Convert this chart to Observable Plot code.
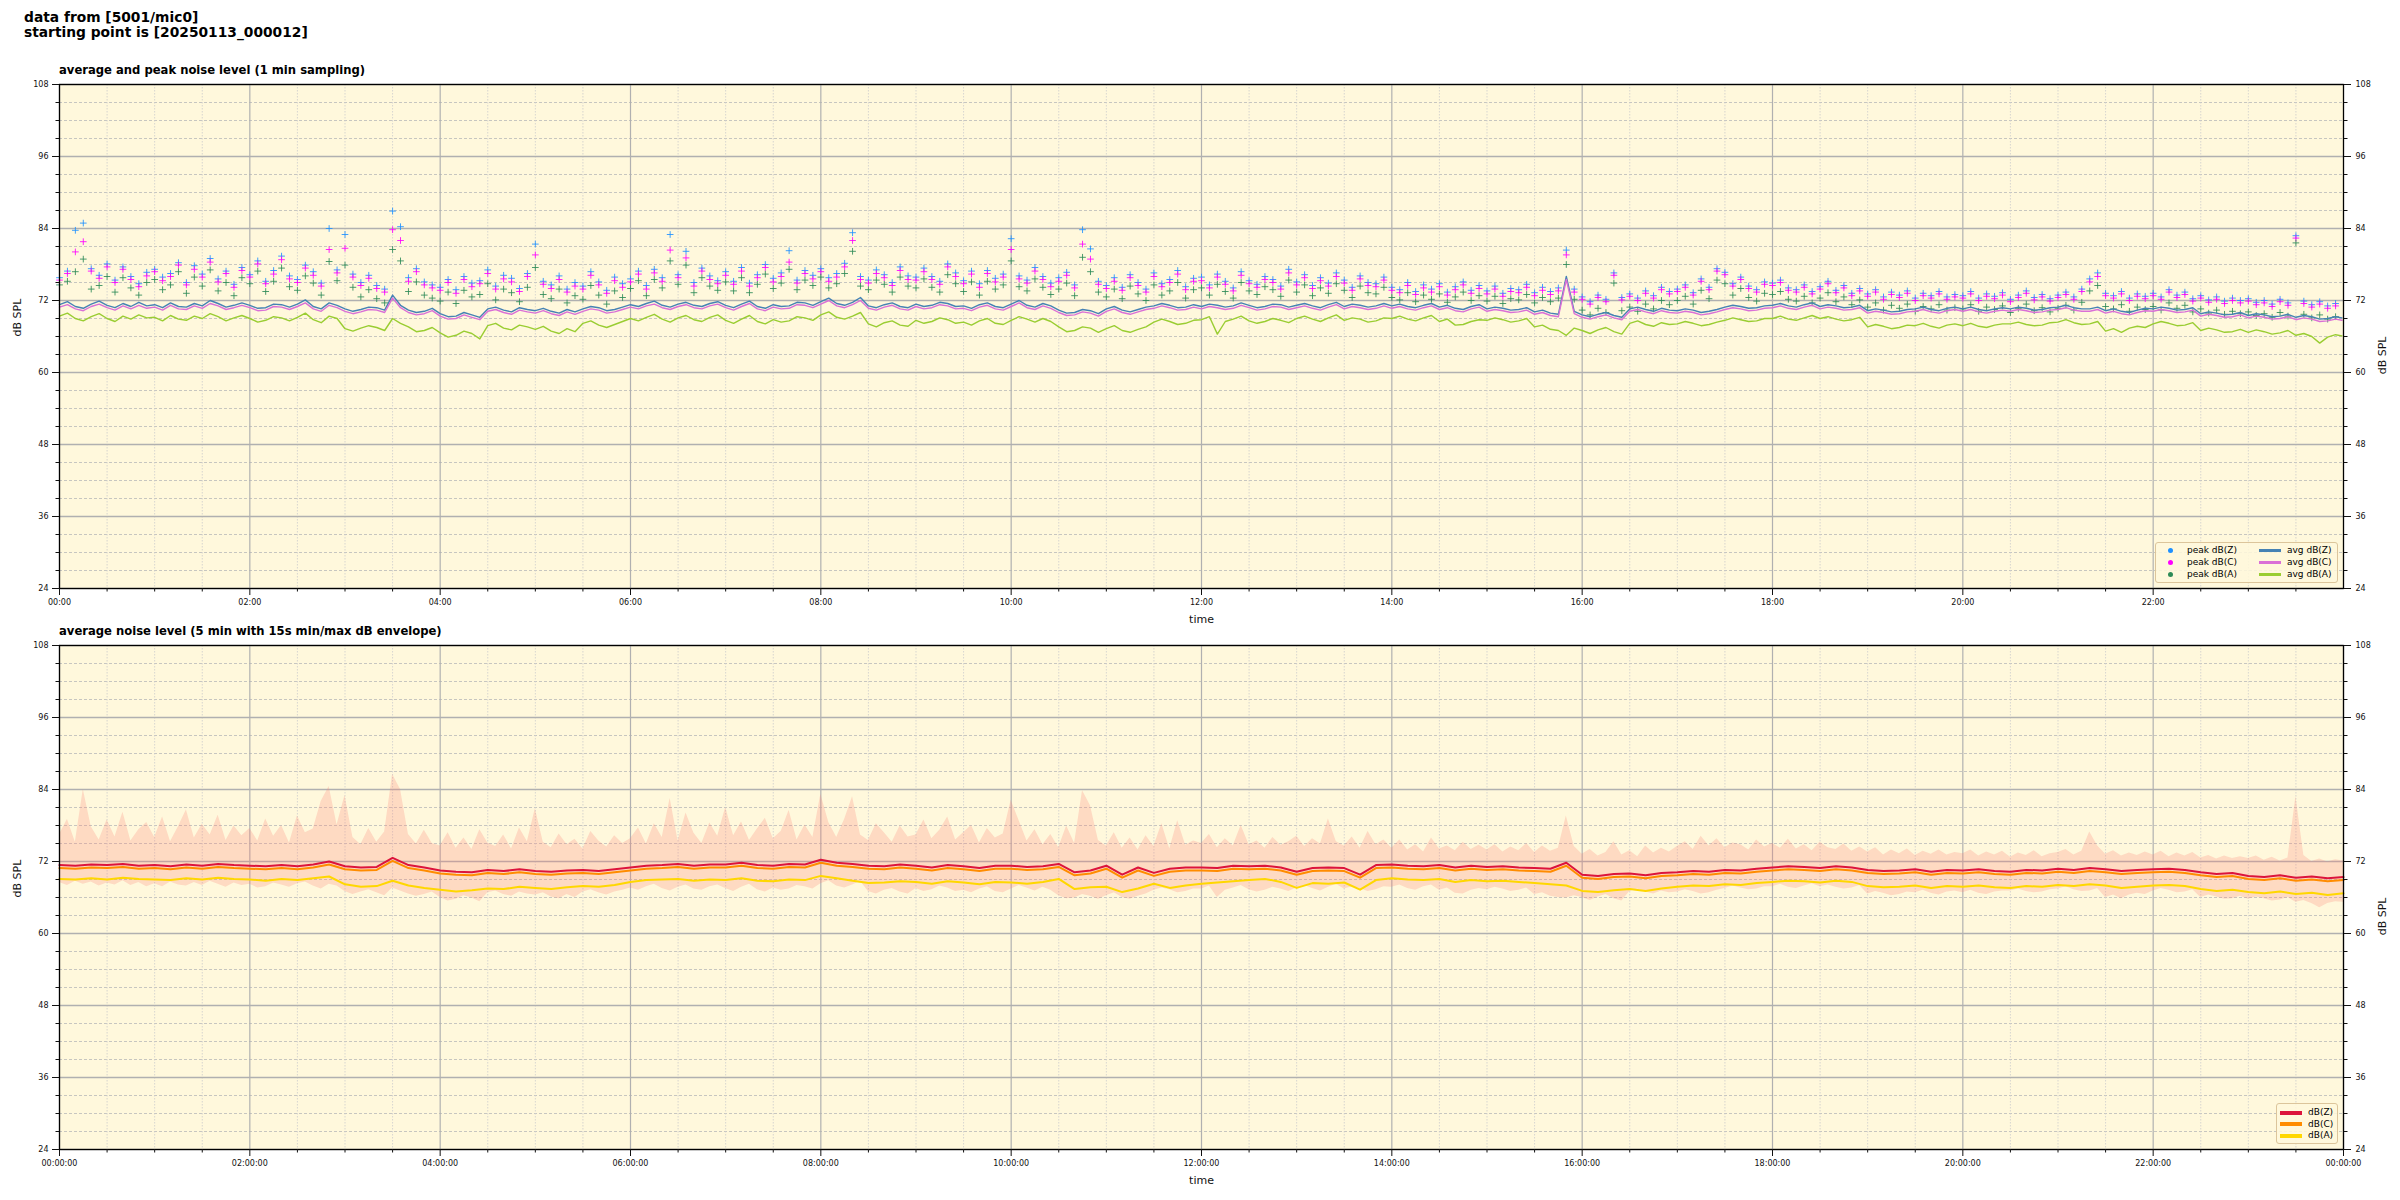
<!DOCTYPE html>
<html><head><meta charset="utf-8">
<script src="https://cdn.jsdelivr.net/npm/d3@7"></script>
<script src="https://cdn.jsdelivr.net/npm/@observablehq/plot@0.6"></script>
<style>
body{margin:0;background:#fff;font-family:"DejaVu Sans",sans-serif;color:#000;}
#page{position:relative;width:2400px;height:1200px;overflow:hidden;background:#fff;}
.abs{position:absolute;}
.maintitle{left:24px;top:10px;font-size:13.8px;font-weight:bold;line-height:15px;white-space:pre;}
.subtitle{left:59px;font-size:11.6px;font-weight:bold;line-height:12px;white-space:pre;}
.legend{position:absolute;border:1px solid #dcc59b;background:rgba(255,248,220,0.85);border-radius:3px;font-size:9px;box-sizing:border-box;}
.legend .it{position:absolute;white-space:pre;line-height:10px;}
.legend .sw{position:absolute;height:3px;}
.legend .dt{position:absolute;width:5px;height:5px;border-radius:50%;}
</style></head>
<body><div id="page">
<div class="abs maintitle">data from [5001/mic0]
starting point is [20250113_000012]</div>
<div class="abs subtitle" style="top:64px">average and peak noise level (1 min sampling)</div>
<div class="abs subtitle" style="top:625px">average noise level (5 min with 15s min/max dB envelope)</div>
<div id="top" class="abs" style="left:0;top:60px"></div>
<div id="bot" class="abs" style="left:0;top:621px"></div>
<div class="legend" style="left:2155px;top:542px;width:183px;height:41px">
  <div class="dt" style="left:12px;top:5px;background:#1e90ff"></div><div class="it" style="left:31px;top:2px">peak dB(Z)</div>
  <div class="dt" style="left:12px;top:17px;background:#ff00ff"></div><div class="it" style="left:31px;top:14px">peak dB(C)</div>
  <div class="dt" style="left:12px;top:29px;background:#2e8b57"></div><div class="it" style="left:31px;top:26px">peak dB(A)</div>
  <div class="sw" style="left:103px;top:6px;width:22px;background:#4682b4"></div><div class="it" style="left:131px;top:2px">avg dB(Z)</div>
  <div class="sw" style="left:103px;top:18px;width:22px;background:#da70d6"></div><div class="it" style="left:131px;top:14px">avg dB(C)</div>
  <div class="sw" style="left:103px;top:30px;width:22px;background:#9acd32"></div><div class="it" style="left:131px;top:26px">avg dB(A)</div>
</div>
<div class="legend" style="left:2276px;top:1103px;width:62px;height:41px">
  <div class="sw" style="left:3px;top:7px;width:22px;height:3.5px;background:#dc143c"></div><div class="it" style="left:31px;top:3px">dB(Z)</div>
  <div class="sw" style="left:3px;top:18px;width:22px;height:3.5px;background:#ff8c00"></div><div class="it" style="left:31px;top:15px">dB(C)</div>
  <div class="sw" style="left:3px;top:30px;width:22px;height:3.5px;background:#ffd700"></div><div class="it" style="left:31px;top:26px">dB(A)</div>
</div>
</div>
<script>
// ---------- data (dB SPL) ----------
// top chart: 5-min readings of the 1-min averages, 00:00 .. 23:59 (12 per hour)
const avgZ = [71.3,71.8,71.0,70.7,71.4,71.9,71.2,70.8,71.5,71.0,71.7,71.1,
71.3,70.8,71.6,71.0,70.9,71.5,71.1,72.0,71.5,70.9,71.2,71.6,
71.2,70.7,70.8,71.4,71.3,70.9,71.4,72.1,71.0,70.6,71.6,71.2,
70.6,70.2,70.5,70.9,70.8,70.4,72.9,71.2,70.4,70.0,70.2,70.7,
69.8,69.3,69.4,70.0,69.6,69.2,70.6,70.9,70.4,70.1,70.8,70.5,
70.3,70.7,70.2,69.9,70.5,70.1,70.6,71.0,70.8,70.3,70.5,70.9,
71.3,71.0,71.5,71.9,71.2,70.9,71.4,71.7,71.2,71.0,71.5,71.8,
71.2,70.8,71.4,71.9,71.0,70.7,71.3,71.0,71.1,71.7,71.6,71.2,
71.8,72.4,71.5,71.2,71.7,72.5,71.1,70.8,71.3,71.6,71.0,70.8,
71.4,71.0,71.2,71.7,71.5,71.0,71.1,70.7,71.3,71.6,71.0,70.8,
71.4,72.0,71.2,70.9,71.5,71.1,70.4,69.9,70.0,70.5,70.3,69.8,
70.6,71.0,70.4,70.1,70.5,70.9,71.1,71.5,71.2,70.8,70.9,71.3,
71.0,71.4,71.2,70.9,71.1,71.6,71.2,70.8,71.0,71.4,71.3,70.9,
71.2,71.5,71.1,70.8,71.3,71.7,71.0,71.4,71.2,70.9,71.1,71.5,
71.1,71.4,71.0,70.8,71.2,71.5,70.9,71.2,70.7,70.5,71.0,71.3,
70.6,70.9,70.7,70.4,70.5,70.8,70.1,70.4,69.9,69.7,76.0,70.2,
69.6,69.3,69.7,70.0,69.5,69.2,70.6,70.9,70.5,70.2,70.7,70.4,
70.3,70.6,70.4,70.0,70.2,70.5,70.9,71.2,71.0,70.7,70.8,71.1,
71.2,71.5,71.1,70.9,71.3,71.6,71.0,71.3,71.1,70.8,70.9,71.2,
70.3,70.6,70.4,70.1,70.2,70.5,70.6,70.9,70.5,70.3,70.7,70.9,
70.6,70.9,70.5,70.3,70.6,70.8,70.6,70.9,70.7,70.4,70.5,70.8,
70.9,71.2,70.8,70.6,70.6,70.9,70.3,70.6,70.2,70.0,70.4,70.7,
70.6,70.9,70.7,70.4,70.5,70.8,69.8,70.1,69.9,69.6,69.7,70.0,
69.5,69.8,69.6,69.3,69.4,69.7,69.2,69.5,69.3,68.9,69.0,69.3,69.1];
const avgC = [70.9,71.3,70.6,70.3,71.0,71.4,70.8,70.4,71.1,70.6,71.2,70.7,
70.9,70.4,71.2,70.6,70.5,71.1,70.7,71.5,71.1,70.5,70.8,71.2,
70.8,70.3,70.4,71.0,70.9,70.5,71.0,71.6,70.6,70.2,71.2,70.8,
70.2,69.8,70.1,70.5,70.4,70.0,72.4,70.8,70.0,69.6,69.8,70.3,
69.4,68.9,69.0,69.6,69.2,68.8,70.2,70.5,70.0,69.7,70.4,70.1,
69.9,70.3,69.8,69.5,70.1,69.7,70.2,70.6,70.4,69.9,70.1,70.5,
70.9,70.6,71.1,71.4,70.8,70.5,71.0,71.3,70.8,70.6,71.1,71.4,
70.8,70.4,71.0,71.5,70.6,70.3,70.9,70.6,70.7,71.3,71.2,70.8,
71.4,72.0,71.1,70.8,71.3,72.0,70.7,70.4,70.9,71.2,70.6,70.4,
71.0,70.6,70.8,71.3,71.1,70.6,70.7,70.3,70.9,71.2,70.6,70.4,
71.0,71.6,70.8,70.5,71.1,70.7,70.0,69.5,69.6,70.1,69.9,69.4,
70.2,70.6,70.0,69.7,70.1,70.5,70.7,71.1,70.8,70.4,70.5,70.9,
70.6,71.0,70.8,70.5,70.7,71.2,70.8,70.4,70.6,71.0,70.9,70.5,
70.8,71.1,70.7,70.4,70.9,71.3,70.6,71.0,70.8,70.5,70.7,71.1,
70.7,71.0,70.6,70.4,70.8,71.1,70.5,70.8,70.3,70.1,70.6,70.9,
70.2,70.5,70.3,70.0,70.1,70.4,69.7,70.0,69.5,69.3,75.5,69.8,
69.2,68.9,69.3,69.6,69.1,68.8,70.2,70.5,70.1,69.8,70.3,70.0,
69.9,70.2,70.0,69.6,69.8,70.1,70.5,70.8,70.6,70.3,70.4,70.7,
70.8,71.1,70.7,70.5,70.9,71.2,70.6,70.9,70.7,70.4,70.5,70.8,
69.9,70.2,70.0,69.7,69.8,70.1,70.2,70.5,70.1,69.9,70.3,70.5,
70.2,70.5,70.1,69.9,70.2,70.4,70.2,70.5,70.3,70.0,70.1,70.4,
70.5,70.8,70.4,70.2,70.2,70.5,69.9,70.2,69.8,69.6,70.0,70.3,
70.2,70.5,70.3,70.0,70.1,70.4,69.4,69.7,69.5,69.2,69.3,69.6,
69.1,69.4,69.2,68.9,69.0,69.3,68.8,69.1,68.9,68.5,68.6,68.9,68.7];
const avgA = [69.4,69.9,69.0,68.6,69.3,69.8,69.0,68.5,69.4,68.9,69.6,69.1,
69.2,68.6,69.5,68.9,68.7,69.4,69.0,69.8,69.3,68.6,69.1,69.5,
69.0,68.4,68.7,69.3,69.1,68.6,69.2,69.9,68.8,68.3,69.4,69.0,
67.3,66.9,67.4,67.8,67.5,67.0,69.0,68.2,67.6,66.8,67.0,67.5,
66.6,65.9,66.2,66.9,66.5,65.6,67.8,68.2,67.4,67.1,67.9,67.6,
67.2,67.7,66.9,66.5,67.3,66.8,68.2,68.6,67.9,67.5,68.0,68.5,
69.0,68.6,69.2,69.7,68.9,68.4,69.1,69.5,68.8,68.5,69.2,69.6,
68.7,68.2,68.9,69.5,68.5,68.1,68.8,68.4,68.6,69.3,69.1,68.7,
69.6,70.1,69.2,68.9,69.4,70.0,68.1,67.6,68.3,68.6,67.9,67.7,
68.7,68.2,68.5,69.1,68.8,68.2,68.4,67.9,68.6,69.0,68.2,68.0,
68.7,69.3,68.9,68.4,69.0,68.5,67.6,66.8,67.0,67.6,67.4,66.7,
67.3,67.8,67.0,66.7,67.2,67.6,68.4,68.9,68.5,68.0,68.2,68.7,
68.8,69.3,66.4,68.5,68.9,69.4,68.6,68.2,68.5,69.0,68.7,68.3,
69.0,69.4,68.9,68.5,69.1,69.6,68.7,69.1,68.9,68.4,68.6,69.1,
69.0,69.4,68.9,68.6,69.1,69.5,68.5,68.9,67.9,68.0,68.5,68.8,
68.7,69.1,68.8,68.4,68.6,69.0,67.6,67.9,67.2,67.0,66.2,67.4,
67.0,66.5,67.1,67.5,66.8,66.4,68.2,68.6,68.0,67.7,68.3,68.0,
68.1,68.5,68.2,67.8,68.0,68.4,68.7,69.1,68.8,68.5,68.6,69.0,
69.0,69.4,68.9,68.7,69.1,69.5,69.0,69.3,68.9,68.6,68.8,69.2,
67.6,68.0,67.7,67.3,67.5,67.9,67.8,68.2,67.7,67.4,67.9,68.1,
67.8,68.2,67.7,67.5,67.9,68.1,68.1,68.4,68.0,67.8,67.9,68.3,
68.4,68.8,68.3,68.0,68.1,68.5,66.9,67.3,66.7,67.4,67.7,67.5,
68.1,68.5,68.2,67.8,67.9,68.3,67.0,67.4,67.1,66.7,66.8,67.2,
66.7,67.1,66.8,66.4,66.6,67.0,66.2,66.5,66.0,64.9,65.9,66.3,66.1];
// top chart: 5-min readings of the peaks
const peakZ = [75.8,76.9,83.7,84.9,77.3,76.2,78.1,75.4,77.6,76.0,74.8,76.7,
77.2,75.9,76.5,78.3,75.0,77.8,76.4,79.0,75.6,76.9,74.7,77.5,
76.3,78.6,75.2,77.0,79.4,76.1,75.5,77.9,76.8,74.9,84.0,77.1,
83.0,76.4,75.0,76.2,74.5,73.9,86.9,84.3,75.8,77.3,75.1,74.6,
74.2,75.5,73.8,76.0,74.9,75.3,77.1,74.4,76.2,75.7,74.0,76.5,
81.4,75.2,74.6,76.1,73.9,75.0,74.4,76.8,75.1,73.7,75.9,74.8,
75.6,76.9,74.5,77.2,75.8,83.0,76.3,80.2,75.0,77.4,76.1,75.3,
76.8,75.2,77.5,74.9,76.3,78.0,75.7,76.6,80.3,75.4,77.0,76.2,
77.3,75.8,76.5,78.2,83.3,76.0,75.4,77.1,76.3,75.0,77.6,76.1,
75.9,77.4,76.0,75.2,78.1,76.6,75.3,76.9,74.8,77.0,75.7,76.4,
82.3,76.1,75.4,77.5,76.0,74.9,75.8,76.7,74.6,83.8,80.6,75.2,
74.5,75.8,74.2,76.3,75.0,73.9,76.6,74.8,75.5,77.0,74.3,75.7,
75.9,74.6,76.4,75.2,74.1,76.8,75.3,74.7,76.0,75.5,74.4,77.2,
75.1,76.3,74.5,75.8,74.9,76.6,75.4,74.2,76.1,75.0,74.8,75.9,
74.2,73.8,75.0,73.5,74.6,73.9,74.8,73.4,74.3,75.1,73.7,74.5,
73.6,74.4,73.2,74.0,73.8,74.7,73.3,74.2,73.5,74.1,80.4,73.9,
72.6,71.8,72.9,72.2,76.6,72.5,73.1,72.4,73.6,72.8,74.2,73.5,
73.9,74.6,73.3,75.6,74.2,77.3,76.7,74.8,75.9,74.4,73.8,75.1,
74.9,75.4,74.1,73.8,74.6,73.5,74.3,75.2,73.7,74.5,73.2,74.0,
73.1,73.8,72.6,73.4,72.9,73.6,72.4,73.2,72.8,73.5,72.6,73.0,
72.8,73.5,72.4,73.1,72.7,73.3,72.2,72.9,73.6,72.5,73.0,72.3,
72.9,73.4,72.6,73.9,75.6,76.6,73.2,72.8,73.5,72.4,73.1,72.7,
73.2,72.6,73.8,72.9,73.4,72.3,72.8,72.1,72.6,71.9,72.4,72.0,
72.3,71.7,72.0,71.4,72.2,71.6,82.8,71.9,71.3,71.8,71.1,71.5];
const peakC = [75.4,76.5,80.1,81.8,76.9,75.7,77.6,75.0,77.2,75.5,74.3,76.1,
76.8,75.3,76.0,77.9,74.6,77.2,75.9,78.4,75.1,76.5,74.2,77.0,
75.9,78.1,74.8,76.4,78.8,75.6,75.0,77.4,76.2,74.4,80.5,76.6,
80.7,75.9,74.5,75.7,74.0,73.4,83.8,82.0,75.2,76.8,74.6,74.1,
73.7,75.0,73.2,75.5,74.3,74.8,76.5,73.9,75.6,75.1,73.5,76.0,
79.6,74.7,74.0,75.5,73.4,74.4,73.9,76.2,74.6,73.2,75.3,74.2,
75.1,76.4,73.9,76.6,75.2,80.4,75.8,79.1,74.4,76.9,75.5,74.8,
76.2,74.7,76.9,74.4,75.8,77.5,75.1,76.0,78.4,74.9,76.5,75.6,
76.8,75.2,75.9,77.6,82.0,75.5,74.9,76.5,75.8,74.5,77.0,75.5,
75.4,76.8,75.5,74.7,77.6,76.0,74.8,76.4,74.2,76.5,75.1,75.9,
80.5,75.6,74.9,76.9,75.5,74.3,75.2,76.2,74.1,81.4,78.9,74.7,
74.0,75.2,73.7,75.8,74.5,73.4,76.0,74.3,75.0,76.4,73.8,75.2,
75.3,74.1,75.9,74.7,73.6,76.2,74.8,74.2,75.5,75.0,73.9,76.6,
74.6,75.8,74.0,75.3,74.4,76.0,74.9,73.7,75.6,74.5,74.3,75.4,
73.7,73.3,74.5,73.0,74.1,73.4,74.3,72.9,73.8,74.6,73.2,74.0,
73.1,73.9,72.7,73.5,73.3,74.2,72.8,73.7,73.0,73.6,79.6,73.4,
72.2,71.4,72.5,71.8,76.2,72.1,72.7,72.0,73.2,72.4,73.8,73.1,
73.5,74.2,72.9,75.2,73.8,76.9,76.3,74.4,75.5,74.0,73.4,74.7,
74.5,75.0,73.7,73.4,74.2,73.1,73.9,74.8,73.3,74.1,72.8,73.6,
72.7,73.4,72.2,73.0,72.5,73.2,72.0,72.8,72.4,73.1,72.2,72.6,
72.4,73.1,72.0,72.7,72.3,72.9,71.8,72.5,73.2,72.1,72.6,71.9,
72.5,73.0,72.2,73.5,75.1,76.0,72.8,72.4,73.1,72.0,72.7,72.3,
72.8,72.2,73.4,72.5,73.0,71.9,72.4,71.7,72.2,71.5,72.0,71.6,
71.9,71.3,71.6,71.0,71.8,71.2,82.4,71.5,70.9,71.4,70.7,71.1];
const peakA = [74.6,75.2,76.8,78.9,73.9,74.5,76.0,73.4,75.8,74.1,72.9,75.0,
75.5,73.8,74.6,76.8,73.2,75.9,74.4,77.1,73.6,75.0,72.8,75.8,
74.8,76.9,73.5,75.2,77.4,74.3,73.7,76.1,74.9,72.9,78.5,75.3,
77.9,74.2,72.6,73.8,72.3,71.6,80.5,78.6,73.5,75.1,72.9,72.4,
71.9,73.4,71.5,73.7,72.6,73.0,74.8,72.1,73.9,73.3,71.8,74.2,
77.5,73.0,72.3,73.9,71.6,72.8,72.2,74.5,72.9,71.4,73.6,72.5,
74.0,75.3,72.8,75.5,74.1,78.6,74.7,77.9,73.3,75.8,74.4,73.7,
75.1,73.6,75.8,73.3,74.7,76.4,74.0,74.9,77.2,73.8,75.4,74.5,
75.9,74.1,74.8,76.5,80.2,74.4,73.8,75.4,74.7,73.4,75.9,74.4,
74.1,75.6,74.2,73.4,76.3,74.8,73.5,75.1,72.9,75.2,73.9,74.6,
78.6,74.3,73.6,75.6,74.2,73.0,73.9,74.9,72.8,79.2,76.8,73.4,
72.6,73.9,72.3,74.4,73.1,72.0,74.6,72.9,73.6,75.0,72.4,73.8,
74.1,72.9,74.7,73.5,72.4,75.0,73.6,73.0,74.3,73.8,72.7,75.4,
73.4,74.6,72.8,74.1,73.2,74.8,73.7,72.5,74.4,73.3,73.1,74.2,
72.5,72.1,73.3,71.8,72.9,72.2,73.1,71.7,72.6,73.4,72.0,72.8,
71.9,72.7,71.5,72.3,72.1,73.0,71.6,72.5,71.8,72.4,78.0,72.2,
70.4,69.6,70.7,70.0,74.9,70.3,70.9,70.2,71.4,70.6,72.0,71.3,
72.0,72.7,71.4,73.7,72.3,75.4,74.8,72.9,74.0,72.5,71.9,73.2,
73.0,73.5,72.2,71.9,72.7,71.6,72.4,73.3,71.8,72.6,71.3,72.1,
70.9,71.6,70.4,71.2,70.7,71.4,70.2,71.0,70.6,71.3,70.4,70.8,
70.6,71.3,70.2,70.9,70.5,71.1,70.0,70.7,71.4,70.3,70.8,70.1,
70.7,71.2,70.4,71.7,73.6,74.5,71.0,70.6,71.3,70.2,70.9,70.5,
71.0,70.4,71.6,70.7,71.2,70.1,70.6,69.9,70.4,69.7,70.2,69.8,
70.1,69.5,69.8,69.2,70.0,69.4,81.6,69.7,69.1,69.6,68.9,69.3];
// bottom chart: 10-min readings of the 5-min levels, 00:00 .. 24:00
const lvlZ = [71.4,71.3,71.5,71.4,71.6,71.3,71.4,71.2,71.5,71.3,71.6,71.4,71.3,71.2,71.4,71.2,71.5,72.0,71.2,71.0,71.1,72.6,71.4,71.0,70.5,70.3,70.2,70.6,70.4,70.7,70.4,70.3,70.5,70.6,70.4,70.7,71.0,71.3,71.4,71.6,71.3,71.5,71.5,71.8,71.4,71.3,71.6,71.5,72.3,71.8,71.6,71.3,71.2,71.5,71.3,71.0,71.4,71.2,70.9,71.3,71.3,71.1,71.2,71.6,70.2,70.5,71.3,69.8,71.0,70.1,70.8,71.0,71.0,70.9,71.3,71.2,71.3,71.0,70.3,70.9,71.0,70.9,69.8,71.4,71.5,71.3,71.2,71.4,71.0,71.3,71.1,71.2,71.0,70.9,70.8,71.8,69.8,69.6,69.9,70.0,69.7,70.1,70.2,70.4,70.3,70.6,70.5,70.8,71.0,71.2,71.1,70.9,71.2,71.0,70.6,70.4,70.5,70.7,70.3,70.6,70.5,70.7,70.4,70.3,70.6,70.5,70.8,70.6,70.9,70.7,70.4,70.6,70.7,70.8,70.6,70.2,69.9,70.1,69.6,69.4,69.7,69.3,69.5,69.2,69.4];
const lvlC = [70.9,70.8,71.0,70.9,71.1,70.8,70.9,70.7,71.0,70.8,71.1,70.9,70.8,70.7,70.9,70.7,71.0,71.5,70.7,70.5,70.6,72.1,70.9,70.5,70.0,69.8,69.7,70.1,69.9,70.2,69.9,69.8,70.0,70.1,69.9,70.2,70.5,70.8,70.9,71.1,70.8,71.0,71.0,71.3,70.9,70.8,71.1,71.0,71.8,71.3,71.1,70.8,70.7,71.0,70.8,70.5,70.9,70.7,70.4,70.8,70.8,70.6,70.7,71.1,69.7,70.0,70.8,69.3,70.5,69.6,70.3,70.5,70.5,70.4,70.8,70.7,70.8,70.5,69.8,70.4,70.5,70.4,69.3,70.9,71.0,70.8,70.7,70.9,70.5,70.8,70.6,70.7,70.5,70.4,70.3,71.3,69.3,69.1,69.4,69.5,69.2,69.6,69.7,69.9,69.8,70.1,70.0,70.3,70.5,70.7,70.6,70.4,70.7,70.5,70.1,69.9,70.0,70.2,69.8,70.1,70.0,70.2,69.9,69.8,70.1,70.0,70.3,70.1,70.4,70.2,69.9,70.1,70.2,70.3,70.1,69.7,69.4,69.6,69.1,68.9,69.2,68.8,69.0,68.7,68.9];
const lvlA = [69.1,69.0,69.2,69.0,69.3,69.1,69.0,68.9,69.2,69.0,69.3,69.1,69.0,68.8,69.1,68.9,69.2,69.5,68.2,67.8,67.9,68.8,68.0,67.6,67.3,67.0,67.2,67.5,67.4,67.8,67.6,67.4,67.7,67.9,67.8,68.1,68.6,68.9,69.0,69.1,68.8,69.0,68.9,69.2,68.8,68.7,69.0,68.9,69.6,69.2,68.8,68.4,68.5,68.7,68.6,68.3,68.7,68.5,68.2,68.6,68.5,68.3,68.6,69.1,67.4,67.7,67.8,66.9,67.5,68.3,67.6,68.0,68.3,68.5,68.7,68.9,69.1,68.6,67.6,68.4,68.3,68.5,67.3,68.9,69.2,69.0,68.9,69.1,68.6,68.9,68.7,68.8,68.6,68.4,68.2,68.0,67.1,66.9,67.2,67.4,67.1,67.5,67.8,68.0,67.9,68.2,68.1,68.4,68.6,68.8,68.7,68.5,68.8,68.6,67.9,67.7,67.8,68.0,67.6,67.9,67.8,68.0,67.7,67.6,67.9,67.8,68.1,67.9,68.2,68.0,67.6,67.8,68.0,68.1,67.9,67.4,67.1,67.3,66.9,66.7,67.0,66.6,66.8,66.4,66.7];
// bottom chart: 5-min readings of the 15s min/max envelope
const envMax = [76.5,79.0,75.2,84.0,77.8,75.6,78.9,76.1,80.2,75.4,77.3,78.5,
76.0,79.4,75.3,77.8,80.6,75.9,78.2,76.4,79.7,75.5,77.9,76.3,
77.5,75.4,79.1,76.2,78.0,75.1,79.6,76.8,77.4,82.0,84.5,78.1,
83.0,76.0,74.8,77.5,75.2,76.9,86.5,84.0,76.5,74.9,77.2,75.0,
74.6,76.8,74.2,75.9,74.0,77.3,75.1,74.5,76.4,74.1,77.6,75.3,
80.8,75.2,74.3,76.6,74.8,75.7,74.1,77.0,75.4,74.4,76.3,75.0,
75.8,77.6,74.9,78.3,76.0,82.5,75.4,80.1,76.7,75.0,78.4,76.2,
81.0,76.3,78.6,75.5,77.4,79.2,75.8,77.0,80.5,75.6,78.1,76.0,
83.2,78.5,76.0,79.0,82.8,76.4,75.5,78.3,76.8,75.2,77.9,76.1,
76.4,78.9,75.8,77.2,79.4,75.6,76.8,78.0,75.1,77.5,75.9,76.6,
82.2,78.8,75.4,77.3,74.8,76.5,74.3,77.9,75.0,83.8,81.3,75.5,
74.6,76.8,74.2,75.9,73.9,76.3,74.5,78.3,74.1,78.8,74.7,75.4,
75.0,76.5,74.3,75.8,74.6,78.0,74.8,75.4,74.2,76.0,74.7,75.3,
76.2,74.5,75.8,74.9,79.1,75.3,74.6,76.1,74.2,77.0,74.8,75.6,
74.2,75.6,73.9,74.8,73.6,75.9,74.1,74.6,73.8,75.2,74.0,74.7,
73.9,74.8,73.6,74.4,73.8,75.0,73.5,74.6,73.7,74.2,79.6,74.5,
73.2,74.0,72.9,73.5,75.3,73.1,73.8,72.8,74.6,73.4,74.2,73.6,
74.5,75.3,74.0,76.2,74.6,75.8,74.3,75.1,74.8,73.9,75.6,74.4,
75.0,74.2,75.7,74.1,74.8,73.8,75.2,74.3,74.0,74.9,73.7,74.4,
73.6,74.3,73.1,73.9,73.3,74.1,73.0,73.7,73.2,73.9,73.1,73.5,
73.3,73.9,72.9,73.6,73.1,73.7,72.7,73.4,73.0,73.8,72.8,73.3,
73.5,74.0,73.1,73.7,76.9,74.6,73.2,73.8,72.9,73.4,73.0,73.6,
73.1,73.7,72.8,73.4,72.9,73.5,72.6,73.0,72.4,72.9,72.5,72.8,
72.5,72.9,72.2,72.7,72.1,72.6,82.8,73.0,72.0,72.4,71.9,72.3,72.1];
const envMin = [68.5,68.0,68.7,68.2,68.6,67.9,68.4,68.1,68.8,68.0,68.5,67.8,
68.3,67.8,68.6,68.1,67.9,68.5,68.0,68.7,68.2,67.7,68.4,68.0,
68.2,67.6,67.8,68.4,68.1,67.7,68.3,68.6,67.9,67.4,68.2,67.9,
67.0,66.5,66.9,67.3,66.8,66.3,67.6,67.1,66.6,66.2,66.5,66.9,
66.0,65.4,65.7,66.3,65.9,65.3,66.8,67.1,66.5,66.2,66.9,66.6,
66.4,66.8,66.1,65.8,66.5,66.0,66.9,67.3,66.8,66.4,66.9,67.2,
67.6,67.2,67.8,68.2,67.5,67.1,67.7,68.1,67.4,67.2,67.8,68.1,
67.5,67.0,67.7,68.2,67.3,66.9,67.6,67.2,67.4,68.0,67.8,67.4,
68.3,68.8,67.9,67.6,68.1,68.7,67.0,66.6,67.2,67.5,66.9,66.6,
67.5,67.0,67.3,67.9,67.6,67.0,67.2,66.8,67.4,67.8,67.0,66.8,
67.4,68.0,67.6,67.1,67.7,67.2,66.3,65.8,65.9,66.5,66.2,65.7,
66.3,66.8,66.0,65.7,66.2,66.6,67.2,67.6,67.3,66.8,67.0,67.4,
67.4,67.9,66.0,67.2,67.6,68.0,67.3,66.9,67.2,67.7,67.4,67.0,
67.6,68.0,67.5,67.1,67.7,68.2,67.4,67.8,67.5,67.0,67.3,67.8,
67.7,68.1,67.5,67.2,67.8,68.1,67.2,67.6,66.7,66.6,67.2,67.5,
67.3,67.7,67.4,67.0,67.2,67.6,66.5,66.8,66.2,66.0,65.9,66.3,
66.0,65.5,66.1,66.5,65.8,65.4,67.0,67.4,66.9,66.6,67.1,66.8,
66.9,67.3,67.0,66.6,66.8,67.2,67.5,67.9,67.6,67.3,67.4,67.8,
67.8,68.2,67.7,67.5,67.9,68.3,67.8,68.1,67.7,67.4,67.6,68.0,
66.6,67.0,66.7,66.3,66.5,66.9,66.8,67.2,66.7,66.4,66.9,67.1,
66.8,67.2,66.7,66.5,66.9,67.1,67.1,67.4,67.0,66.8,66.9,67.3,
67.4,67.8,67.3,67.0,67.1,67.5,66.0,66.4,65.8,66.4,66.7,66.5,
67.1,67.5,67.2,66.8,66.9,67.3,66.0,66.4,66.1,65.7,65.8,66.2,
65.7,66.1,65.8,65.4,65.6,66.0,65.2,65.5,65.0,64.3,65.0,65.3,65.2];
// axis ticks
const yMajor = [24,36,48,60,72,84,96,108];
const topTimeLabels = ["00:00","02:00","04:00","06:00","08:00","10:00","12:00","14:00","16:00","18:00","20:00","22:00"];
const botTimeLabels = ["00:00:00","02:00:00","04:00:00","06:00:00","08:00:00","10:00:00","12:00:00","14:00:00","16:00:00","18:00:00","20:00:00","22:00:00","00:00:00"];

// ---------- tables (x in minutes after 00:00) ----------
const avgRows = avgZ.map((z,i)=>({t:Math.min(i*5,1439), z, c:avgC[i], a:avgA[i]}));
const peakRows = peakZ.map((z,i)=>({t:i*5, z, c:peakC[i], a:peakA[i]}));
const lvlRows = lvlZ.map((z,i)=>({t:i*10, z, c:lvlC[i], a:lvlA[i]}));
const envRows = envMax.map((hi,i)=>({t:i*5, hi, lo:envMin[i]}));

const yMinor = d3.range(24,109,3).filter(v=>v%12!==0);
const FONT = "DejaVu Sans";

function frameMarks(xMajor, xMinor, xLabels){
  const fmt = v => xLabels[xMajor.indexOf(v)];
  return {
    under: [
      Plot.frame({fill:"#fff8dc", stroke:null}),
      Plot.gridY({ticks:yMinor, stroke:"#b9b9b9", strokeOpacity:1, strokeWidth:0.8, strokeDasharray:"3,2"}),
      Plot.gridX({ticks:xMinor, stroke:"#cdcdcd", strokeOpacity:1, strokeWidth:0.8, strokeDasharray:"1.5,1.5"}),
      Plot.gridY({ticks:yMajor, stroke:"#b0b0b0", strokeOpacity:1, strokeWidth:1.6}),
      Plot.gridX({ticks:xMajor, stroke:"#b0b0b0", strokeOpacity:1, strokeWidth:1.2})
    ],
    over: [
      Plot.frame({stroke:"#000", strokeWidth:1.3}),
      Plot.axisY({ticks:yMajor, anchor:"left", tickSize:7, tickPadding:4, label:null, fontSize:8}),
      Plot.axisY({ticks:yMinor, anchor:"left", tickSize:3.5, tickFormat:()=>"", label:null}),
      Plot.axisY({ticks:yMajor, anchor:"right", tickSize:7, tickPadding:5, label:null, fontSize:8}),
      Plot.axisY({ticks:yMinor, anchor:"right", tickSize:3.5, tickFormat:()=>"", label:null}),
      Plot.axisX({ticks:xMajor, anchor:"bottom", tickSize:7, tickPadding:4, tickFormat:fmt, label:null, fontSize:8}),
      Plot.axisX({ticks:xMinor, anchor:"bottom", tickSize:3.5, tickFormat:()=>"", label:null}),
      Plot.text(["dB SPL"], {frameAnchor:"left", dx:-42, rotate:-90, fontSize:11}),
      Plot.text(["dB SPL"], {frameAnchor:"right", dx:39, rotate:-90, fontSize:11}),
      Plot.text(["time"], {frameAnchor:"bottom", dy:34, fontSize:11})
    ]
  };
}

const common = {width:2400, height:573, marginLeft:59, marginRight:57, marginTop:24, marginBottom:45,
  x:{domain:[0,1440]}, y:{domain:[24,108]},
  style:{fontFamily:FONT, fontSize:"8px", background:"transparent", color:"#111"}};

// top chart
{
  const xMajor = d3.range(0,1440,120);
  const xMinor = d3.range(30,1440,30).filter(v=>v%120!==0);
  const f = frameMarks(xMajor, xMinor, topTimeLabels);
  const chart = Plot.plot({...common, marks:[
    ...f.under,
    Plot.dot(peakRows, {x:"t", y:"z", symbol:"plus", r:2.3, stroke:"#1e90ff", strokeWidth:1, strokeOpacity:0.85}),
    Plot.dot(peakRows, {x:"t", y:"c", symbol:"plus", r:2.3, stroke:"#ff00ff", strokeWidth:1, strokeOpacity:0.85}),
    Plot.dot(peakRows, {x:"t", y:"a", symbol:"plus", r:2.3, stroke:"#2e8b57", strokeWidth:1, strokeOpacity:0.85}),
    Plot.line(avgRows, {x:"t", y:"z", stroke:"#4682b4", strokeWidth:1.4}),
    Plot.line(avgRows, {x:"t", y:"c", stroke:"#da70d6", strokeWidth:1.4}),
    Plot.line(avgRows, {x:"t", y:"a", stroke:"#9acd32", strokeWidth:1.4}),
    ...f.over
  ]});
  document.getElementById("top").appendChild(chart);
}
// bottom chart
{
  const xMajor = d3.range(0,1441,120);
  const xMinor = d3.range(30,1440,30).filter(v=>v%120!==0);
  const f = frameMarks(xMajor, xMinor, botTimeLabels);
  const chart = Plot.plot({...common, marks:[
    ...f.under,
    Plot.areaY(envRows, {x:"t", y1:"lo", y2:"hi", fill:"#fa8072", fillOpacity:0.25}),
    Plot.line(lvlRows, {x:"t", y:"z", stroke:"#dc143c", strokeWidth:2}),
    Plot.line(lvlRows, {x:"t", y:"c", stroke:"#ff8c00", strokeWidth:2}),
    Plot.line(lvlRows, {x:"t", y:"a", stroke:"#ffd700", strokeWidth:2}),
    ...f.over
  ]});
  document.getElementById("bot").appendChild(chart);
}
</script>
</body></html>
